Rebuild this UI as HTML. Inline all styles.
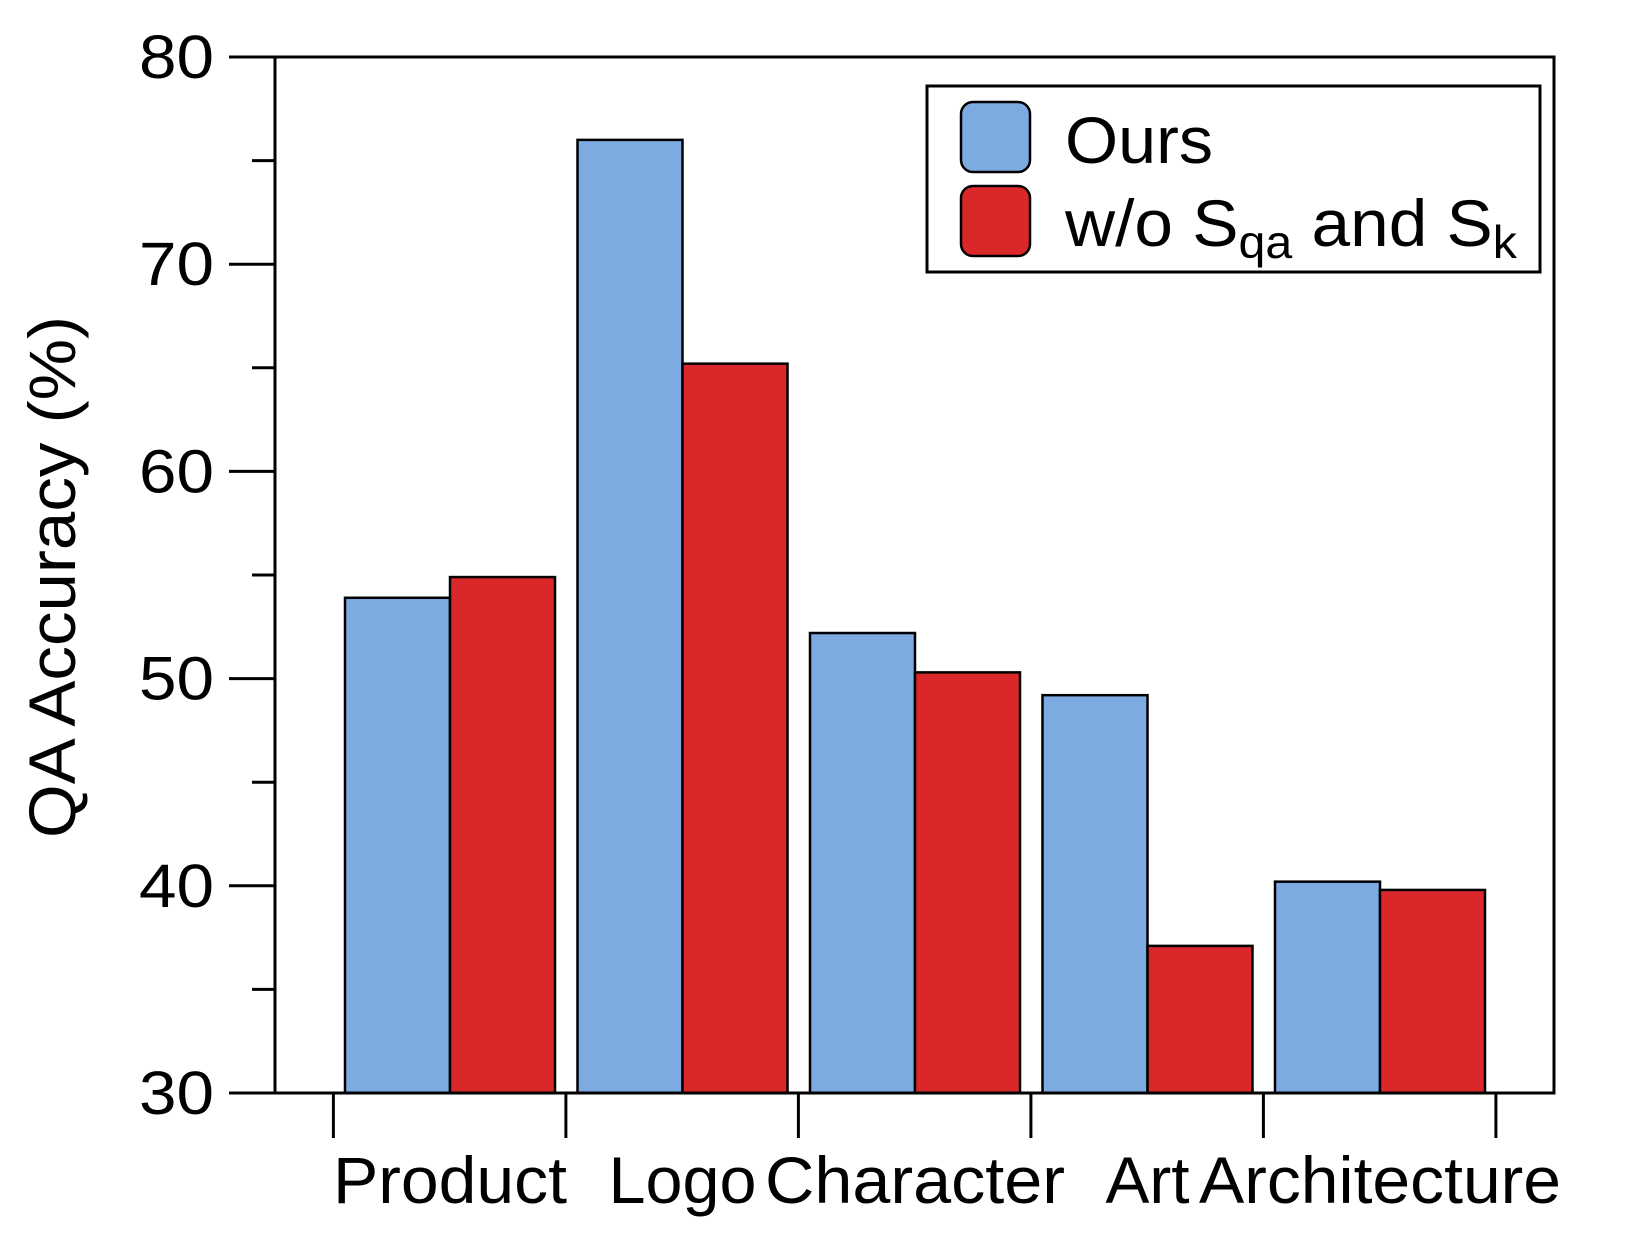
<!DOCTYPE html>
<html><head><meta charset="utf-8"><style>
html,body{margin:0;padding:0;background:#fff}
svg{display:block;font-family:"Liberation Sans",Arial,sans-serif}
</style></head><body>
<svg id="chart" width="1644" height="1233" viewBox="0 0 1644 1233" xmlns="http://www.w3.org/2000/svg">
<g id="bars"></g>
<g id="axes"></g>
<text transform="translate(75,577) rotate(-90)" text-anchor="middle" font-size="66" textLength="522" lengthAdjust="spacingAndGlyphs">QA Accuracy (%)</text>
<g>
<rect x="927" y="86" width="613" height="186" fill="#fff" stroke="#000" stroke-width="3"/>
<rect x="961" y="102" width="69" height="70" rx="12" fill="#7eaae2" stroke="#000" stroke-width="2.5"/>
<rect x="961" y="186" width="69" height="70" rx="12" fill="#da282a" stroke="#000" stroke-width="2.5"/>
<text x="1065" y="163" font-size="66" textLength="148" lengthAdjust="spacingAndGlyphs">Ours</text>
<text x="1065" y="246" font-size="66" textLength="452" lengthAdjust="spacingAndGlyphs">w/o S<tspan font-size="46" dy="12">qa</tspan><tspan dy="-12"> and S</tspan><tspan font-size="46" dy="12">k</tspan></text>
</g>
</svg>
<script>
const categories = ["Product","Logo","Character","Art","Architecture"];
const oursValues = [53.9, 76.0, 52.2, 49.2, 40.2];
const ablationValues = [54.9, 65.2, 50.3, 37.1, 39.8];
const yTicks = [30,40,50,60,70,80];
const yMinorTicks = [35,45,55,65,75];

const NS = "http://www.w3.org/2000/svg";
const X0 = 275, X1 = 1554, Y0 = 1093, YTOP = 57;
function yScale(v){ return Y0 - (v-30)/(80-30)*(Y0-YTOP); }
const groupStart = 345, groupStep = 232.5, barW = 105;
function xGroup(i){ return groupStart + i*groupStep; }
function mk(tag, attrs, parent){
  const e = document.createElementNS(NS, tag);
  for (const k in attrs) e.setAttribute(k, attrs[k]);
  parent.appendChild(e); return e;
}
const bars = document.getElementById('bars');
const axes = document.getElementById('axes');
const labelWidths = [234, 148, 300, 84, 362];
categories.forEach((c,i)=>{
  const x = xGroup(i);
  const b1 = mk('rect',{x:x,y:yScale(oursValues[i]),width:barW,height:Y0-yScale(oursValues[i]),fill:'#7eaae2',stroke:'#000','stroke-width':2.5},bars);
  
  
  const b2 = mk('rect',{x:x+barW,y:yScale(ablationValues[i]),width:barW,height:Y0-yScale(ablationValues[i]),fill:'#da282a',stroke:'#000','stroke-width':2.5},bars);
  
  
  const t = mk('text',{x:x+barW,y:1203,'text-anchor':'middle','font-size':66,textLength:labelWidths[i],lengthAdjust:'spacingAndGlyphs'},axes);
  t.textContent = c;
  
  
});
for (let i=0;i<=categories.length;i++){
  const tx = xGroup(i) - 11.6;
  const tk = mk('line',{x1:tx,x2:tx,y1:Y0,y2:1138,stroke:'#000','stroke-width':3},axes);
  
  
}
const frame = mk('rect',{x:X0,y:YTOP,width:X1-X0,height:Y0-YTOP,fill:'none',stroke:'#000','stroke-width':3},axes);


yTicks.forEach(v=>{
  const y = yScale(v);
  const l = mk('line',{x1:229,x2:X0,y1:y,y2:y,stroke:'#000','stroke-width':3},axes);
  
  
  const t = mk('text',{x:214,y:y+21,'text-anchor':'end','font-size':61,textLength:75,lengthAdjust:'spacingAndGlyphs'},axes);
  t.textContent = v;
  
  
});
yMinorTicks.forEach(v=>{
  const y = yScale(v);
  const l = mk('line',{x1:252,x2:X0,y1:y,y2:y,stroke:'#000','stroke-width':3},axes);
  
  
});
</script>
</body></html>
